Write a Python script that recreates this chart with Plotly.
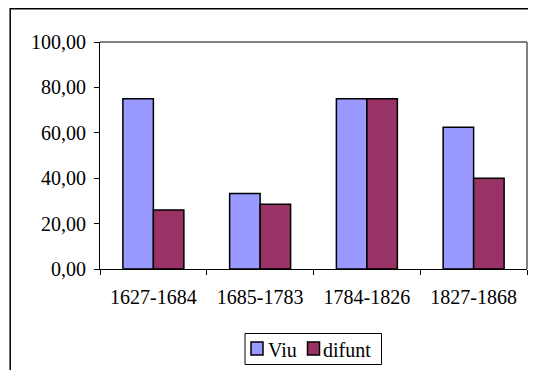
import plotly.graph_objects as go

categories = ["1627-1684", "1685-1783", "1784-1826", "1827-1868"]
viu = [75.0, 33.3, 75.0, 62.5]
difunt = [26.0, 28.5, 75.0, 40.0]
y_ticks = [0, 20, 40, 60, 80, 100]
series_names = ["Viu", "difunt"]
series_colors = ["#9999FF", "#993366"]

FONT = dict(family="Liberation Serif", size=20, color="black")

fig = go.Figure()
for name, vals, col in zip(series_names, [viu, difunt], series_colors):
    fig.add_trace(go.Bar(x=categories, y=vals, name=name, showlegend=False,
                         marker=dict(color=col, line=dict(color="black", width=1.5))))

# page body has an 8px margin; figure is sized to fit the window
W, H = 528, 362
L, R, T, B = 92, 9, 34, 101
pw, ph = W - L - R, H - T - B

def px(xr):  # reference window pixel -> paper x
    return (xr - 8 - L) / pw

def py(yr):  # reference window pixel -> paper y
    return (H - B - (yr - 8)) / ph

shapes = [
    dict(type="line", xref="paper", yref="paper", x0=0, x1=1, y0=1, y1=1,
         line=dict(color="#808080", width=2)),
    dict(type="line", xref="paper", yref="paper", x0=1, x1=1, y0=0, y1=1,
         line=dict(color="#808080", width=2)),
    dict(type="line", xref="paper", yref="paper", x0=px(10), x1=px(540), y0=py(8.8), y1=py(8.8),
         line=dict(color="black", width=1.5)),
    dict(type="line", xref="paper", yref="paper", x0=px(10.2), x1=px(10.2), y0=py(8), y1=py(380),
         line=dict(color="black", width=1.5)),
    # legend box
    dict(type="rect", xref="paper", yref="paper", x0=px(245), x1=px(381.5), y0=py(333.5), y1=py(364.5),
         line=dict(color="black", width=1), fillcolor="white", layer="below"),
]
annotations = []
legend_sq_x = [251, 307.5]
legend_txt_cx = [282, 347]
for name, col, sx, tx in zip(series_names, series_colors, legend_sq_x, legend_txt_cx):
    shapes.append(dict(type="rect", xref="paper", yref="paper", x0=px(sx), x1=px(sx + 12),
                       y0=py(342), y1=py(355), fillcolor=col,
                       line=dict(color="black", width=1.5)))
    annotations.append(dict(text=name, xref="paper", yref="paper", x=px(tx), y=py(349.5),
                            xanchor="center", yanchor="middle", showarrow=False, font=FONT))

fig.update_layout(
    width=W, height=H,
    margin=dict(l=L, r=R, t=T, b=B, pad=0),
    paper_bgcolor="white", plot_bgcolor="white",
    font=FONT,
    separators=", ",
    barmode="group", bargap=0.4286, bargroupgap=0,
    showlegend=False,
    xaxis=dict(showline=True, linecolor="black", linewidth=1, ticks="outside",
               tickson="boundaries", ticklen=5, tickcolor="black", showgrid=False,
               tickfont=FONT, fixedrange=True, automargin=False, ticklabelstandoff=10),
    yaxis=dict(range=[0, 100], tickvals=y_ticks, tickformat=".2f", showline=True,
               linecolor="black", linewidth=1, ticks="outside", ticklen=5,
               tickcolor="black", showgrid=False, zeroline=False, tickfont=FONT,
               fixedrange=True, automargin=False, ticklabelstandoff=4),
    shapes=shapes,
    annotations=annotations,
)

fig.write_html("out.html")
